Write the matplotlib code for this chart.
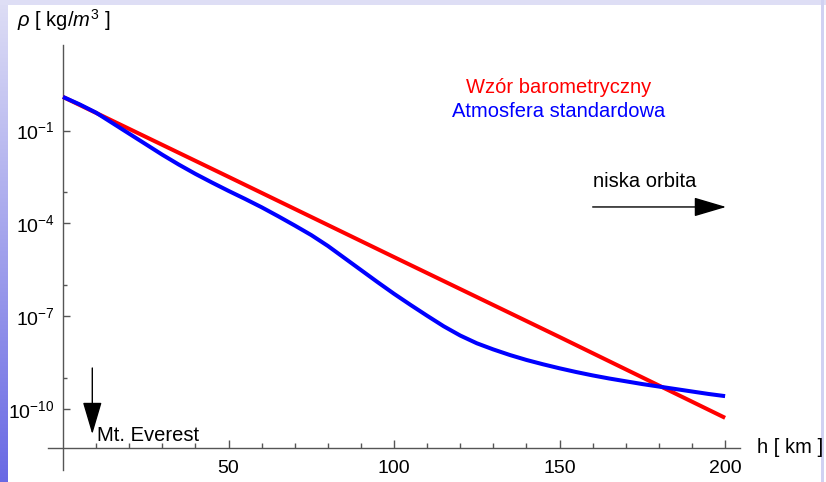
import numpy as np
import matplotlib
matplotlib.use('Agg')
import matplotlib.pyplot as plt
from matplotlib.ticker import FixedLocator, FuncFormatter, NullFormatter

plt.rcParams['font.family'] = ['Liberation Sans', 'DejaVu Sans']
plt.rcParams['mathtext.fontset'] = 'custom'
plt.rcParams['mathtext.rm'] = 'Liberation Sans'
plt.rcParams['mathtext.it'] = 'Liberation Sans:italic'
plt.rcParams['mathtext.bf'] = 'Liberation Sans:bold'

# barometric formula (straight line on log scale)
hBaro = [0, 50, 100, 150, 200]
rhoBaro = [1.23, 3.2e-3, 8.1e-6, 2.1e-8, 5.1e-11]

# standard atmosphere (log10 of density in kg/m^3)
hStd = [0, 5, 10, 15, 20, 25, 30, 35, 40, 45, 50, 55, 60, 65, 70, 75, 80, 85, 90,
        95, 100, 105, 110, 115, 120, 125, 130, 135, 140, 145, 150, 155, 160,
        165, 170, 175, 180, 185, 190, 195, 200]
logRhoStd = [0.09, -0.15, -0.42, -0.76, -1.10, -1.44, -1.78, -2.10, -2.40, -2.68,
             -2.95, -3.21, -3.48, -3.77, -4.07, -4.38, -4.73, -5.12, -5.51,
             -5.90, -6.28, -6.64, -6.99, -7.33, -7.63, -7.88, -8.08, -8.26,
             -8.42, -8.56, -8.69, -8.81, -8.92, -9.02, -9.11, -9.20, -9.28,
             -9.36, -9.44, -9.52, -9.59]
rhoStd = [10 ** v for v in logRhoStd]

yMajorExp = [-10, -7, -4, -1]
yMinorExp = [-9, -6, -3]
xMajor = [50, 100, 150, 200]
xMinor = [10, 20, 30, 40, 60, 70, 80, 90, 110, 120, 130, 140, 160, 170, 180, 190]

hEverest = 8.85

W, H = 826, 482
fig = plt.figure(figsize=(W / 100, H / 100), dpi=100)

# slide background decoration (left gradient strip, top strip)
bg = fig.add_axes([0, 0, 1, 1], zorder=-10)
bg.set_xlim(0, W)
bg.set_ylim(H, 0)
bg.axis('off')
grad = np.linspace(0, 1, 256).reshape(-1, 1)
topCol = np.array([222, 222, 245]) / 255
botCol = np.array([105, 105, 228]) / 255
img = topCol + grad[..., None] * (botCol - topCol)
bg.imshow(np.repeat(img, 2, axis=1), extent=(0, 8, H, 0), aspect='auto')
bg.add_patch(plt.Rectangle((0, 0), W, 5, color=topCol, lw=0))
bg.add_patch(plt.Rectangle((821, 0), 3, H, color=(0.82, 0.82, 0.95), lw=0))

ax = fig.add_axes([48 / W, 12 / H, 692 / W, 425 / H])
ax.patch.set_alpha(0)
ax.set_yscale('log')
ax.set_xlim(-4.53, 204.5)
ax.set_ylim(10 ** -11.98, 10 ** 1.77)

ax.plot(hBaro, rhoBaro, color='#ff0000', lw=2.9, solid_capstyle='butt', zorder=3)
ax.plot(hStd, rhoStd, color='#0000ff', lw=2.9, solid_capstyle='butt',
        solid_joinstyle='round', zorder=4)

axisCol = '#555555'
for side in ['top', 'right']:
    ax.spines[side].set_visible(False)
ax.spines['left'].set_position(('data', 0))
ax.spines['bottom'].set_position(('data', 10 ** -11.26))
for side in ['left', 'bottom']:
    ax.spines[side].set_color(axisCol)
    ax.spines[side].set_linewidth(1.0)

ax.yaxis.set_major_locator(FixedLocator([10.0 ** e for e in yMajorExp]))
ax.yaxis.set_minor_locator(FixedLocator([10.0 ** e for e in yMinorExp]))
ax.yaxis.set_major_formatter(FuncFormatter(lambda v, p: r'$10^{%d}$' % round(np.log10(v))))
ax.yaxis.set_minor_formatter(NullFormatter())
ax.xaxis.set_major_locator(FixedLocator(xMajor))
ax.xaxis.set_minor_locator(FixedLocator(xMinor))

ax.tick_params(which='both', direction='in', color=axisCol, width=1.0)
ax.tick_params(axis='y', which='major', length=5, pad=6, labelsize=14)
ax.tick_params(axis='y', which='minor', length=3)
ax.tick_params(axis='x', which='major', length=5.5, pad=9, labelsize=14)
ax.tick_params(axis='x', which='minor', length=3.3)

ax.text(149.8, 10 ** 0.41, 'Wzór barometryczny', color='#ff0000', fontsize=14.5,
        ha='center', va='center')
ax.text(149.8, 10 ** -0.39, 'Atmosfera standardowa', color='#0000ff', fontsize=14.5,
        ha='center', va='center')

arrowStyle = '-|>,head_length=20.3,head_width=6.0'
ax.annotate('', xy=(200.3, 10 ** -3.47), xytext=(160.0, 10 ** -3.47),
            arrowprops=dict(arrowstyle=arrowStyle, mutation_scale=1, color='black',
                            lw=1.0, shrinkA=0, shrinkB=0))
ax.text(160.0, 10 ** -2.66, 'niska orbita', fontsize=14.5, ha='left', va='center')

ax.annotate('', xy=(hEverest, 10 ** -10.82), xytext=(hEverest, 10 ** -8.68),
            arrowprops=dict(arrowstyle=arrowStyle, mutation_scale=1, color='black',
                            lw=1.0, shrinkA=0, shrinkB=0))
ax.text(10.3, 10 ** -10.86, 'Mt. Everest', fontsize=14.5, ha='left', va='center')

ax.text(209.7, 10 ** -11.26, 'h [ km ]', fontsize=14.5, ha='left', va='center',
        clip_on=False)
fig.text(17 / W, 1 - 27 / H, r'$\rho$ [ kg/$m^3$ ]', fontsize=14.5, ha='left',
         va='baseline')

fig.savefig('out.png', dpi=100)
